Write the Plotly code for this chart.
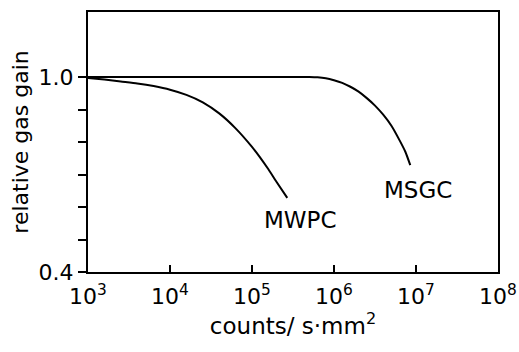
import plotly.graph_objects as go

# MWPC curve: rate (counts/s·mm²) vs relative gas gain
mwpc_rate = [10**v for v in [3.0, 3.2, 3.4, 3.6, 3.8, 4.0, 4.2, 4.4, 4.6, 4.8, 5.0, 5.1, 5.2, 5.3, 5.43]]
mwpc_gain = [0.997, 0.992, 0.986, 0.980, 0.972, 0.961, 0.945, 0.922, 0.888, 0.842, 0.785, 0.752, 0.716, 0.677, 0.628]

# MSGC curve
msgc_rate = [10**v for v in [3.0, 4.0, 5.0, 5.7, 5.8, 5.9, 6.0, 6.1, 6.2, 6.3, 6.4, 6.5, 6.6, 6.7, 6.8, 6.87, 6.93]]
msgc_gain = [1.0, 1.0, 1.0, 1.0, 0.999, 0.996, 0.990, 0.982, 0.970, 0.955, 0.935, 0.912, 0.884, 0.850, 0.805, 0.770, 0.729]

x_tickvals = [1e3, 1e4, 1e5, 1e6, 1e7, 1e8]
x_ticktext = ["10<sup>3</sup>", "10<sup>4</sup>", "10<sup>5</sup>", "10<sup>6</sup>", "10<sup>7</sup>", "10<sup>8</sup>"]
y_tickvals = [0.4, 0.5, 0.6, 0.7, 0.8, 0.9, 1.0]
y_ticktext = ["0.4", "", "", "", "", "", "1.0"]

font = "DejaVu Sans"
fig = go.Figure()
fig.add_trace(go.Scatter(x=mwpc_rate, y=mwpc_gain, mode="lines",
                         line=dict(color="black", width=2, shape="spline", smoothing=0.5), showlegend=False))
fig.add_trace(go.Scatter(x=msgc_rate, y=msgc_gain, mode="lines",
                         line=dict(color="black", width=2, shape="spline", smoothing=0.5), showlegend=False))

fig.add_annotation(x=5.59, y=0.56, xref="x", yref="y", text="MWPC", showarrow=False,
                   font=dict(family=font, size=23, color="black"))
fig.add_annotation(x=7.02, y=0.652, xref="x", yref="y", text="MSGC", showarrow=False,
                   font=dict(family=font, size=23, color="black"))

fig.update_xaxes(type="log", range=[3, 8], tickvals=x_tickvals, ticktext=x_ticktext,
                 ticks="inside", ticklen=7, tickwidth=2, tickcolor="black",
                 showline=True, linecolor="black", linewidth=2, mirror=True,
                 showgrid=False, zeroline=False, automargin=False, ticklabelstandoff=4,
                 tickfont=dict(family=font, size=22, color="black"),
                 title=dict(text="counts/ s·mm<sup>2</sup>", font=dict(family=font, size=23, color="black"), standoff=6))
fig.update_yaxes(range=[0.4, 1.2], tickvals=y_tickvals, ticktext=y_ticktext,
                 ticks="outside", ticklen=8, tickwidth=2, tickcolor="black",
                 showline=True, linecolor="black", linewidth=2, mirror=True,
                 showgrid=False, zeroline=False, automargin=False,
                 tickfont=dict(family=font, size=22, color="black"),
                 title=dict(text="relative gas gain", font=dict(family=font, size=22, color="black"), standoff=4))

fig.update_layout(width=519, height=352, margin=dict(l=88, r=21, t=12, b=80),
                  plot_bgcolor="white", paper_bgcolor="white")
fig.write_html("out.html")
